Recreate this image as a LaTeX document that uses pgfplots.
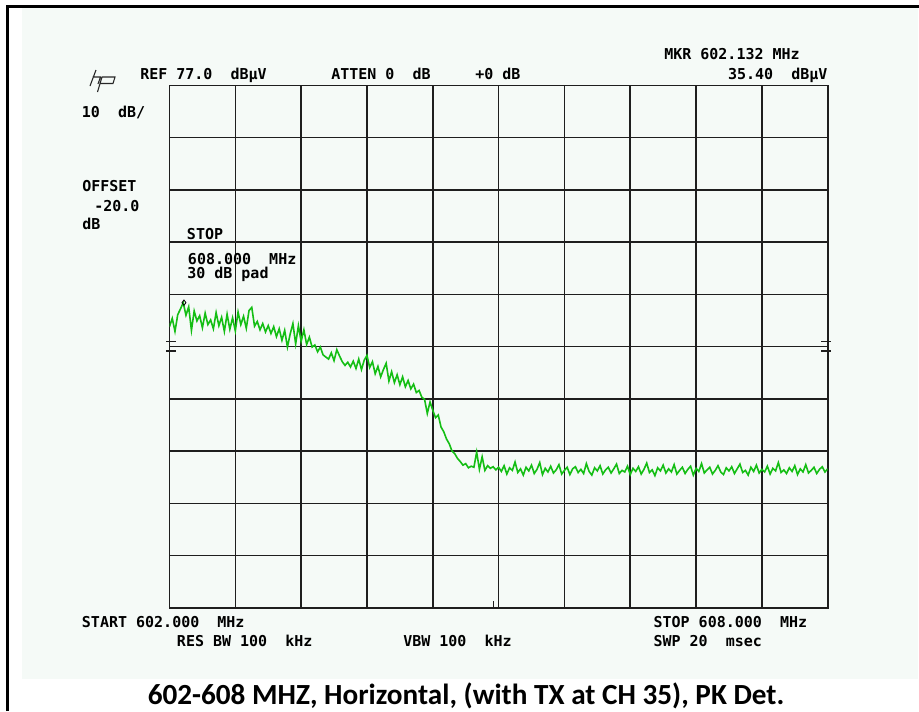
\documentclass[border=0pt]{standalone}
\usepackage{pgfplots}
\pgfplotsset{compat=1.18}
\usepackage{fontspec}
\setmainfont{DejaVu Sans}
\newfontfamily\hpmono{DejaVu Sans Mono}
\newfontfamily\capfont{Carlito}
\definecolor{panel}{RGB}{245,250,247}
\definecolor{trace}{RGB}{20,190,20}
\definecolor{gridc}{RGB}{30,30,30}

% spectrum trace, 602-608 MHz, dBuV
\pgfplotstableread[row sep=\\]{
f y \\
602.000 30.8 \\ 602.025 32.4 \\ 602.050 29.9 \\ 602.075 33.1 \\ 602.100 34.2 \\
602.125 35.4 \\ 602.150 33.0 \\ 602.175 34.6 \\ 602.200 30.1 \\ 602.225 33.8 \\
602.250 31.9 \\ 602.275 32.9 \\ 602.300 30.6 \\ 602.325 33.4 \\ 602.350 31.2 \\
602.375 32.1 \\ 602.400 30.4 \\ 602.425 33.5 \\ 602.450 31.0 \\ 602.475 32.6 \\
602.500 29.9 \\ 602.525 33.2 \\ 602.550 30.3 \\ 602.575 32.5 \\ 602.600 30.0 \\
602.625 33.6 \\ 602.650 31.2 \\ 602.675 32.8 \\ 602.700 30.5 \\ 602.725 33.9 \\
602.750 34.5 \\ 602.775 30.9 \\ 602.800 31.8 \\ 602.825 30.2 \\ 602.850 31.4 \\
602.875 29.8 \\ 602.900 31.0 \\ 602.925 29.5 \\ 602.950 30.8 \\ 602.975 28.9 \\
603.000 30.4 \\ 603.025 28.2 \\ 603.050 30.1 \\ 603.075 26.9 \\ 603.100 29.4 \\
603.125 31.4 \\ 603.150 27.5 \\ 603.175 31.0 \\ 603.200 28.0 \\ 603.225 30.2 \\
603.250 27.4 \\ 603.275 28.8 \\ 603.300 26.9 \\ 603.325 27.3 \\ 603.350 26.0 \\
603.375 26.9 \\ 603.400 25.4 \\ 603.425 25.0 \\ 603.450 24.6 \\ 603.475 25.8 \\
603.500 24.3 \\ 603.525 26.4 \\ 603.550 25.2 \\ 603.575 24.1 \\ 603.600 23.4 \\
603.625 24.0 \\ 603.650 23.1 \\ 603.675 24.2 \\ 603.700 22.8 \\ 603.725 24.6 \\
603.750 22.6 \\ 603.775 24.4 \\ 603.800 25.3 \\ 603.825 23.0 \\ 603.850 24.1 \\
603.875 21.8 \\ 603.900 23.2 \\ 603.925 21.2 \\ 603.950 22.6 \\ 603.975 23.8 \\
604.000 20.4 \\ 604.025 22.2 \\ 604.050 20.1 \\ 604.075 21.6 \\ 604.100 19.7 \\
604.125 21.2 \\ 604.150 19.3 \\ 604.175 20.5 \\ 604.200 18.9 \\ 604.225 19.8 \\
604.250 18.2 \\ 604.275 18.6 \\ 604.300 17.3 \\ 604.325 16.9 \\ 604.350 14.2 \\
604.375 16.4 \\ 604.400 14.8 \\ 604.425 13.4 \\ 604.450 13.9 \\ 604.475 11.6 \\
604.500 10.7 \\ 604.525 9.3 \\ 604.550 8.4 \\ 604.575 7.0 \\ 604.600 6.5 \\
604.625 5.6 \\ 604.650 5.0 \\ 604.675 4.3 \\ 604.700 4.6 \\ 604.725 3.8 \\
604.750 4.1 \\ 604.775 3.9 \\ 604.800 6.8 \\ 604.825 3.5 \\ 604.850 5.9 \\
604.875 3.3 \\ 604.900 4.2 \\ 604.925 3.7 \\ 604.950 4.0 \\ 604.975 3.4 \\
605.000 3.9 \\ 605.025 3.1 \\ 605.050 4.2 \\ 605.075 2.6 \\ 605.100 3.8 \\
605.125 3.3 \\ 605.150 4.9 \\ 605.175 2.9 \\ 605.200 3.6 \\ 605.225 2.4 \\
605.250 3.9 \\ 605.275 3.2 \\ 605.300 4.3 \\ 605.325 2.7 \\ 605.350 3.5 \\
605.375 4.8 \\ 605.400 2.5 \\ 605.425 3.7 \\ 605.450 3.0 \\ 605.475 4.1 \\
605.500 2.8 \\ 605.525 3.4 \\ 605.550 4.4 \\ 605.575 2.6 \\ 605.600 3.3 \\
605.625 3.9 \\ 605.650 2.5 \\ 605.675 3.6 \\ 605.700 4.0 \\ 605.725 2.9 \\
605.750 3.5 \\ 605.775 2.7 \\ 605.800 4.6 \\ 605.825 3.1 \\ 605.850 2.4 \\
605.875 3.8 \\ 605.900 3.2 \\ 605.925 4.2 \\ 605.950 2.6 \\ 605.975 3.4 \\
606.000 3.9 \\ 606.025 2.8 \\ 606.050 3.6 \\ 606.075 4.5 \\ 606.100 2.7 \\
606.125 3.3 \\ 606.150 3.0 \\ 606.175 4.1 \\ 606.200 2.5 \\ 606.225 3.7 \\
606.250 3.1 \\ 606.275 4.0 \\ 606.300 2.6 \\ 606.325 3.5 \\ 606.350 4.7 \\
606.375 2.9 \\ 606.400 3.4 \\ 606.425 2.3 \\ 606.450 3.8 \\ 606.475 3.2 \\
606.500 4.3 \\ 606.525 2.8 \\ 606.550 3.6 \\ 606.575 3.0 \\ 606.600 4.4 \\
606.625 2.6 \\ 606.650 3.3 \\ 606.675 3.9 \\ 606.700 2.7 \\ 606.725 3.5 \\
606.750 4.1 \\ 606.775 2.4 \\ 606.800 3.7 \\ 606.825 3.1 \\ 606.850 4.6 \\
606.875 2.8 \\ 606.900 3.4 \\ 606.925 3.9 \\ 606.950 2.6 \\ 606.975 3.3 \\
607.000 4.2 \\ 607.025 3.0 \\ 607.050 2.5 \\ 607.075 3.8 \\ 607.100 3.2 \\
607.125 4.0 \\ 607.150 2.7 \\ 607.175 3.6 \\ 607.200 4.5 \\ 607.225 2.9 \\
607.250 3.3 \\ 607.275 2.4 \\ 607.300 3.9 \\ 607.325 3.1 \\ 607.350 4.3 \\
607.375 2.8 \\ 607.400 3.5 \\ 607.425 3.0 \\ 607.450 4.1 \\ 607.475 2.6 \\
607.500 3.7 \\ 607.525 3.2 \\ 607.550 4.8 \\ 607.575 2.9 \\ 607.600 3.4 \\
607.625 2.7 \\ 607.650 3.8 \\ 607.675 3.1 \\ 607.700 4.2 \\ 607.725 2.5 \\
607.750 3.6 \\ 607.775 3.0 \\ 607.800 4.4 \\ 607.825 2.8 \\ 607.850 3.3 \\
607.875 3.9 \\ 607.900 2.7 \\ 607.925 3.5 \\ 607.950 4.0 \\ 607.975 3.0 \\
608.000 3.6 \\
}\trace

\begin{document}
\begin{tikzpicture}[x=0.75pt,y=-0.75pt]
\useasboundingbox (0,0) rectangle (919,711);
\fill[panel] (22,7) rectangle (918,679);
\draw[black,line width=2.25pt] (7.5,711)--(7.5,6)--(919,6);

\begin{axis}[at={(127.125pt,-63.975pt)},anchor=north west,
  width=493.65pt,height=391.875pt,scale only axis,
  xmin=602,xmax=608,ymin=-23,ymax=77,
  xtick={602,602.6,...,608.1},ytick={-23,-13,...,78},
  xticklabels={},yticklabels={},tick style={draw=none},
  grid=major,major grid style={gridc,line width=1.2pt},
  axis line style={gridc,line width=1.2pt}]
\addplot[trace,line width=1.2pt,no marks] table[x=f,y=y]{\trace};
\addplot[black,only marks,mark=diamond,mark size=2pt,line width=0.6pt] coordinates {(602.132,35.4)};
\end{axis}

% display-line ticks and centre mark
\draw[gridc,line width=1pt] (166,341.7)--(176,341.7) (166,351)--(176,351)
  (821,341.7)--(831,341.7) (821,351)--(831,351)
  (493.5,601)--(493.5,607) (498.6,601)--(498.6,607);

% hp logo
\draw[black!85,line width=0.8pt] (96,70)--(90,86) (92.7,77)--(100.5,77)--(98,84)
  (102,77)--(115,77)--(113,83.5)--(100,83.5) (102,77)--(97.5,92);

\begin{scope}[every node/.style={inner sep=0pt,font=\hpmono\bfseries\fontsize{11.25}{13}\selectfont}]
\node[anchor=base west] at (140,79) {REF 77.0~~dBµV};
\node[anchor=base west] at (331,79) {ATTEN 0~~dB};
\node[anchor=base west] at (475,79) {+0 dB};
\node[anchor=base west] at (664,59.3) {MKR 602.132 MHz};
\node[anchor=base east] at (827.7,79) {35.40~~dBµV};
\node[anchor=base west] at (81.7,117) {10~~dB/};
\node[anchor=base west] at (82,191.5) {OFFSET};
\node[anchor=base west] at (94,211) {-20.0};
\node[anchor=base west] at (82,229.3) {dB};
\node[anchor=base west] at (186.7,239.3) {STOP};
\node[anchor=base west] at (187.7,264.3) {608.000~~MHz};
\node[anchor=base west] at (187,278.3) {30 dB pad};
\node[anchor=base west] at (81.7,627.5) {START 602.000~~MHz};
\node[anchor=base west] at (176.7,646) {RES BW 100~~kHz};
\node[anchor=base west] at (403,646) {VBW 100~~kHz};
\node[anchor=base west] at (653.3,627.5) {STOP 608.000~~MHz};
\node[anchor=base west] at (653.3,646) {SWP 20~~msec};
\end{scope}

\node[inner sep=0pt,font=\capfont\bfseries\fontsize{21.9}{24}\selectfont] at (466,696)
  {602-608 MHZ, Horizontal, (with TX at CH 35), PK Det.};
\end{tikzpicture}
\end{document}
